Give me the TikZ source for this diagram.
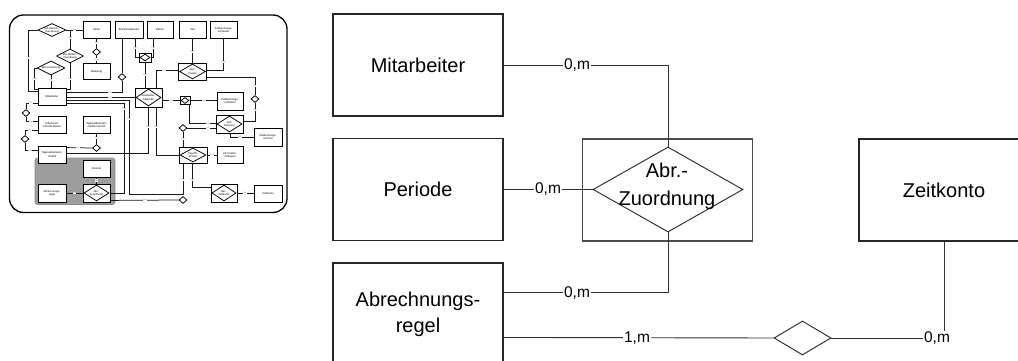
\documentclass[tikz,border=0pt]{standalone}
\usepackage{fontspec}
\setmainfont{Liberation Sans}
\usetikzlibrary{shapes.geometric,calc}
\newcommand\thumbtxt{\fontsize{2.7}{3.1}\selectfont}
\newcommand\thumblab{\fontsize{2}{2.2}\selectfont}
\newcommand\bigtxt{\fontsize{20}{26}\selectfont}
\newcommand\cardtxt{\fontsize{15.5}{18}\selectfont}
\begin{document}
\begin{tikzpicture}[x=1pt,y=-1pt,
 mbox/.style={draw=black!85, line width=1.1pt, minimum width=170pt, minimum height=102pt, inner sep=0, font=\bigtxt, align=center},
 mlab/.style={fill=white, inner sep=0.8pt, font=\cardtxt},
 mline/.style={draw=black!80, line width=0.9pt},
 tb/.style={draw=black, fill=white, line width=0.85pt, minimum width=27pt, minimum height=16.5pt, inner sep=0, font=\thumbtxt, align=center},
 td/.style={diamond, draw=black, fill=white, line width=0.75pt, inner sep=0},
 dtext/.style={label={[font=\thumbtxt,align=center,inner sep=0]center:{#1}}},
 tsd/.style={td, minimum width=8pt, minimum height=7pt},
 tl/.style={draw=black!90, line width=0.75pt},
 tlab/.style={fill=white, inner sep=0.3pt, font=\thumblab, text=black!70},
]
\useasboundingbox (0,0) rectangle (1018,361);
\clip (0,0) rectangle (1018,361);
\fill[white] (0,0) rectangle (1018,361);

% ================= thumbnail =================
\draw[line width=1.3pt, rounded corners=14pt] (9.5,15) rectangle (287,212.5);
\filldraw[fill=black!38, draw=black!45, line width=0.6pt, rounded corners=2.5pt] (35,158) rectangle (115,204.5);

% entities
\node[tb] (st) at (96.5,30) {Stelle};
\node[tb, minimum width=28pt] (bk) at (129,30) {Betriebskalender};
\node[tb, minimum width=26pt] (da) at (160,30) {Datum};
\node[tb] (ze) at (192.5,30) {Zeit};
\node[tb] (zs) at (223.5,30) {Zeitbuchungs-\\schlüssel};
\node[tb] (ab) at (96.5,71.5) {Abteilung};
\node[tb, minimum width=28pt, minimum height=17pt] (mi) at (52,96.5) {Mitarbeiter};
\node[tb, minimum width=28pt] (ai) at (52,125) {Arbeitszeit-\\intervall-Raster};
\node[tb] (tv) at (96.5,125) {Tagesarbeitszeit-\\modell Version};
\node[tb, minimum width=28pt, minimum height=17pt] (tz) at (52,154.5) {Tagesarbeitszeit-\\modell};
\node[tb] (pe) at (96.5,169) {Periode};
\node[tb, minimum width=28pt, minimum height=18pt] (ar) at (52,193) {Abrechnungs-\\regel};
\node[tb, minimum width=26pt, minimum height=18pt] (zr) at (230,101) {Zeitbuchungs-\\schlüssel};
\node[tb, minimum width=28pt, minimum height=18pt] (zn) at (268,137) {Zeitbuchungs-\\nummer};
\node[tb, minimum width=26pt] (kp) at (230,155) {ZK-Posten-\\schlüssel};
\node[tb, minimum width=28pt, minimum height=17pt] (zk2) at (268,193.5) {Zeitkonto};

% relationship boxes
\node[tb, minimum width=12pt, minimum height=9pt] (a) at (145,57.5) {};
\node[td, minimum width=10pt, minimum height=7pt] (aD) at (a) {};
\node[tb, minimum width=28pt, minimum height=17pt] (zp) at (192.5,71.5) {};
\node[td, minimum width=26pt, minimum height=15pt, dtext={Zeit-\\Posten}] (zpD) at (zp) {};
\node[tb, minimum width=27pt, minimum height=19pt] (c) at (148.5,97.5) {};
\node[td, minimum width=25pt, minimum height=17pt, dtext={Mitarbeiter-\\Kalender}] (cD) at (c) {};
\node[tb, minimum width=10pt, minimum height=8pt] (d) at (185,100.5) {};
\node[td, minimum width=8pt, minimum height=6pt] (dD) at (d) {};
\node[tb, minimum width=27pt, minimum height=18pt] (e) at (229.5,124) {};
\node[td, minimum width=25pt, minimum height=16pt, dtext={Zeit-\\buchung}] (eD) at (e) {};
\node[tb, minimum width=28pt, minimum height=16pt] (f) at (193,155) {};
\node[td, minimum width=26pt, minimum height=14pt, dtext={Tag-ZK-\\Posten}] (fD) at (f) {};
\node[tb, minimum width=27pt, minimum height=18pt] (g) at (96.5,193) {};
\node[td, minimum width=25pt, minimum height=16pt, dtext={Abr.-\\Zuordnung}] (gD) at (g) {};
\node[tb, minimum width=26pt, minimum height=18pt] (h) at (224,193) {};
\node[td, minimum width=24pt, minimum height=16pt, dtext={Abr.-\\Zeitkonto}] (hD) at (h) {};

% standalone diamonds
\node[td, minimum width=28pt, minimum height=13pt, dtext={MA-Abrech.-\\Zuordnung}] (D1) at (52,30) {};
\node[td, minimum width=27pt, minimum height=14pt, dtext={MA-Stellen-\\Zuordnung}] (D2) at (70,56) {};
\node[td, minimum width=28pt, minimum height=14pt, dtext={MA-Vorsetzung}] (D3) at (51,68) {};
\node[tsd] (s1) at (96.5,52) {};
\node[tsd] (s2) at (122,77) {};
\node[tsd] (s3) at (255,99) {};
\node[tsd] (s4) at (26,113) {};
\node[tsd] (s5) at (25,139) {};
\node[tsd] (s6) at (96.5,148) {};
\node[tsd] (s7) at (183,128) {};
\node[tsd] (s8) at (183,200) {};

% connectors
\draw[tl] (D1.west) -| ($(mi.north west)+(-9,4)$) -- ($(mi.north west)+(0,4)$);
\draw[tl] (D1.east) -- (st.west);
\draw[tl] (D2.north |- D1.east) -- (D2.north);
\draw[tl] (D2.south) |- ($(mi.north east)+(0,2)$);
\draw[tl] (D3.west) -| ($(mi.north west)+(-3,2)$) -- ($(mi.north west)+(0,2)$);
\draw[tl] (D3.south) -- (D3.south |- mi.north);
\draw[tl] (st.south) -- (s1.north);
\draw[tl] (s1.south) -- (ab.north);
\draw[tl] ($(bk.south)+(-7,0)$) -- (s2.north);
\draw[tl] (s2.south) |- ($(mi.north east)+(0,5)$);
\draw[tl] ($(bk.south)+(6,0)$) |- (a.west);
\draw[tl] ($(da.south)+(-7,0)$) |- (a.east);
\draw[tl] (a.south) -- (a.south |- c.north);
\draw[tl] (mi.east |- c.west) -- (c.west);
\draw[tl] (ze.south) -- (zp.north);
\draw[tl] (zs.south) |- ($(zp.north east)+(0,8)$);
\draw[tl] ($(zp.north west)+(0,8)$) -| ($(c.north)+(7.5,0)$);
\draw[tl] ($(zp.south east)+(0,-3)$) -| (s3.north);
\draw[tl] (s3.south) |- ($(e.north east)+(0,7)$);
\draw[tl] (c.east |- d.west) -- (d.west);
\draw[tl] (d.east) -- (d.east -| zr.west);
\draw[tl] ($(d.south east)+(-1,0)$) |- ($(e.north west)+(0,9)$);
\draw[tl] (s7.east) -- (s7.east -| e.west);
\draw[tl] (s7.south) -- (s7.south |- f.north);
\draw[tl] ($(e.south)+(0.5,0)$) |- (zn.west);
\draw[tl] ($(c.south)+(-0.5,0)$) |- ($(tz.north east)+(0,8)$);
\draw[tl] ($(c.south)+(7.5,0)$) |- (f.west);
\draw[tl] (f.east) -- (f.east -| kp.west);
\draw[tl] ($(mi.north east)+(0,13)$) -| (129,194) -| ($(f.south)+(-10,0)$);
\draw[tl] ($(mi.north east)+(0,16)$) -| (124,193) -- (g.east);
\draw[tl] ($(f.south)+(-1,0)$) |- ($(h.north west)+(0,4)$);
\draw[tl] ($(g.south east)+(0,-2)$) -- (s8.west);
\draw[tl] (h.east) -- (h.east -| zk2.west);
\draw[tl] (pe.south) -- (g.north);
\draw[tl] (ar.east) -- (g.west);
\draw[tl] (s4.north) |- ($(mi.south west)+(0,-2)$);
\draw[tl] (s4.south) |- ($(ai.north west)+(0,5)$);
\draw[tl] (s5.north) |- ($(ai.south west)+(0,-3)$);
\draw[tl] (s5.south) |- ($(tz.north west)+(0,5)$);
\draw[tl] ($(tz.north east)+(0,2)$) -- (s6.west);
\draw[tl] (s6.north) -- (s6.north |- tv.south);

% cardinality labels
\node[tlab] (q1) at (29,58) {0,1};
\node[tlab] (q2) at (74.5,30) {0,m};
\node[tlab] (q3) at (70,38) {0,m};
\node[tlab] (q4) at (70,79) {0,m};
\node[tlab] (q5) at (35,79) {0,m};
\node[tlab] (q6) at (51,80) {0,1};
\node[tlab] (q7) at (96.5,43) {0,1};
\node[tlab] (q8) at (96.5,59.5) {0,m};
\node[tlab] (q9) at (110,93) {0,m};
\node[tlab] (q10) at (135,48) {0,m};
\node[tlab] (q11) at (153,48) {0,m};
\node[tlab] (q12) at (145,75) {0,m};
\node[tlab] (q13) at (110,97.5) {0,m};
\node[tlab] (q14) at (192.5,52) {0,m};
\node[tlab] (q15) at (223.5,62) {0,m};
\node[tlab] (q16) at (164,71) {0,m};
\node[tlab] (q17) at (255,86) {0,1};
\node[tlab] (q18) at (255,110) {0,m};
\node[tlab] (q19) at (171,100.5) {0,m};
\node[tlab] (q20) at (204,100.5) {0,m};
\node[tlab] (q21) at (208,124) {0,m};
\node[tlab] (q22) at (208,128) {0,1};
\node[tlab] (q23) at (183,139) {0,m};
\node[tlab] (q24) at (240,137) {0,1};
\node[tlab] (q25) at (148,127) {0,m};
\node[tlab] (q26) at (156,127) {0,m};
\node[tlab] (q27) at (212,155) {0,m};
\node[tlab] (q28) at (129,119) {0,m};
\node[tlab] (q29) at (183,180) {0,1};
\node[tlab] (q30) at (124,109) {0,m};
\node[tlab] (q31) at (192,180) {0,m};
\node[tlab] (q32) at (145,200) {0,m};
\node[tlab] (q33) at (245,193) {0,m};
\node[tlab] (q34) at (96.5,180.5) {0,m};
\node[tlab] (q35) at (74.5,193) {0,m};
\node[tlab] (q36) at (31,103) {0,1};
\node[tlab] (q37) at (31,121.75) {0,m};
\node[tlab] (q38) at (30,130.25) {0,1};
\node[tlab] (q39) at (30,151) {0,m};
\node[tlab] (q40) at (78,148) {0,1};
\node[tlab] (q41) at (96.5,138) {0,m};

% ================= main diagram =================
\node[mbox] (mMa) at (418,65) {Mitarbeiter};
\node[mbox] (mPe) at (418,189.5) {Periode};
\node[mbox] (mAr) at (418,314) {Abrechnungs-\\regel};
\node[mbox, draw=black!70] (mAz) at (667.5,190) {};
\node[diamond, draw=black!85, line width=0.9pt, minimum width=150pt, minimum height=85pt, inner sep=0] (mAzD) at (668,189.5) {};
\node[font=\fontsize{20}{28}\selectfont, align=center, inner sep=0] (mAzT) at (667,186) {Abr.-\\Zuordnung};
\node[mbox] (mZk) at (944,190) {Zeitkonto};
\node[diamond, draw=black!85, line width=0.9pt, minimum width=57pt, minimum height=34pt, inner sep=0] (mSd) at (802.5,338) {};

\draw[mline] (mMa.east) -| (mAzD.north);
\node[mlab] (mL1) at (577,65) {0,m};
\draw[mline] (mPe.east) -- (mAzD.west);
\node[mlab] (mL2) at (548,189.5) {0,m};
\draw[mline] ($(mAr.north east)+(0,30)$) -| (mAzD.south);
\node[mlab] (mL3) at (577,293) {0,m};
\draw[mline] ($(mAr.north east)+(0,75)$) -- (mSd.west);
\node[mlab] (mL4) at (637,338) {1,m};
\node[mlab] (mL5) at (937,338) {0,m};
\draw[mline] (mSd.east) -- (mL5.west);
\draw[mline] (mZk.south) -- (mZk.south |- mL5.north);
\end{tikzpicture}
\end{document}
